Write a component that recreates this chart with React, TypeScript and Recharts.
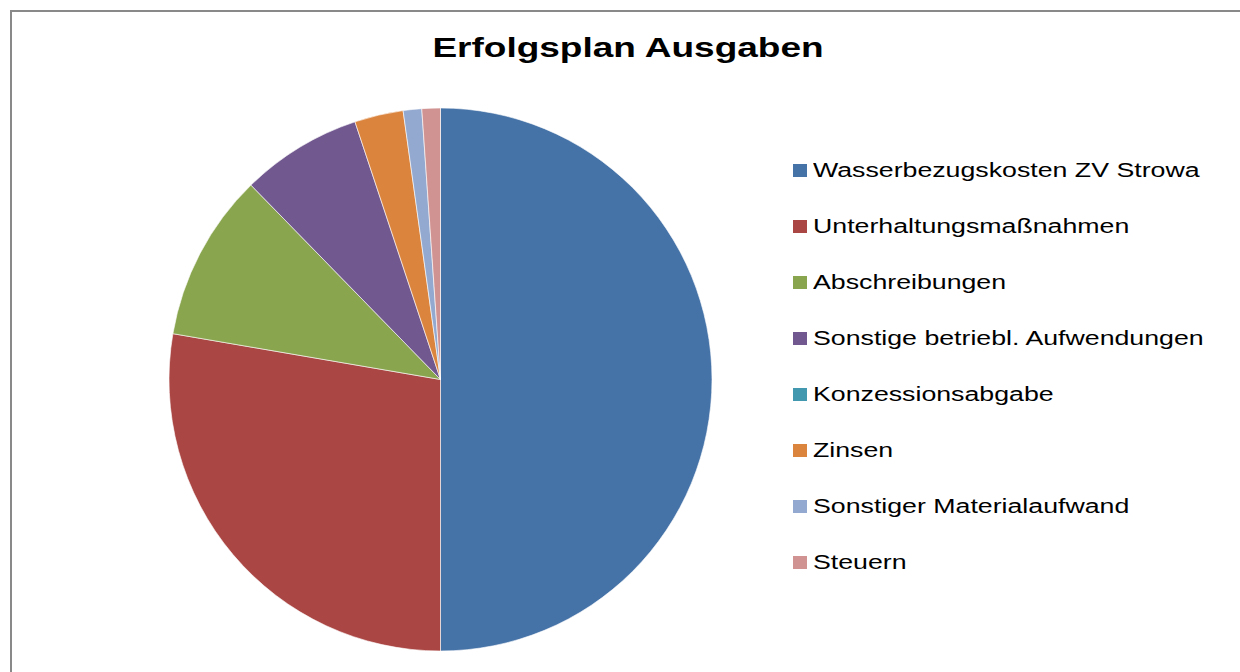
import React from 'react';
import { PieChart, Pie, Cell, Legend } from 'recharts';

const categories: string[] = [
  'Wasserbezugskosten ZV Strowa',
  'Unterhaltungsmaßnahmen',
  'Abschreibungen',
  'Sonstige betriebl. Aufwendungen',
  'Konzessionsabgabe',
  'Zinsen',
  'Sonstiger Materialaufwand',
  'Steuern',
];
const values: number[] = [50.0, 27.7, 10.0, 7.2, 0, 2.9, 1.1, 1.1];
const colors: string[] = ['#4572A7', '#AA4643', '#89A54E', '#71588F', '#4198AF', '#DB843D', '#93A9CF', '#D19392'];
const title = 'Erfolgsplan Ausgaben';

const data = categories.map((name, i) => ({ name, value: values[i] }));

const FONT = '"Liberation Sans", Arial, sans-serif';
const STRETCH = 1.37;

const LegendContent = () => (
  <div style={{ fontFamily: FONT }}>
    {categories.map((name, i) => (
      <div key={name} style={{ height: 56, display: 'flex', alignItems: 'center', position: 'relative' }}>
        <div style={{ width: 14, height: 13, background: colors[i], flex: '0 0 auto' }} />
        <span
          style={{
            position: 'absolute',
            left: 20,
            fontSize: 19.5,
            lineHeight: '56px',
            color: '#000',
            whiteSpace: 'nowrap',
            transform: `scaleX(${STRETCH})`,
            transformOrigin: 'left center',
          }}
        >
          {name}
        </span>
      </div>
    ))}
  </div>
);

export default function App() {
  return (
    <div style={{ position: 'absolute', left: 0, top: 0, width: 1240, height: 672, overflow: 'hidden', background: '#fff' }}>
      <div
        style={{
          position: 'absolute',
          left: 10,
          top: 10,
          width: 1300,
          height: 760,
          border: '2px solid #898989',
          boxSizing: 'border-box',
        }}
      />
      <div
        style={{
          position: 'absolute',
          left: 627.5,
          top: 28,
          lineHeight: '40px',
          fontSize: 27,
          fontWeight: 'bold',
          fontFamily: FONT,
          whiteSpace: 'nowrap',
          color: '#000',
          transform: `translate(-50%, 0) scaleX(${STRETCH})`,
        }}
      >
        {title}
      </div>
      <div style={{ position: 'absolute', left: 0, top: 0 }}>
        <PieChart width={1240} height={672} margin={{ top: 0, right: 0, bottom: 0, left: 0 }}>
          <Pie
            data={data}
            dataKey="value"
            nameKey="name"
            cx={440.5}
            cy={379.5}
            outerRadius={271.5}
            startAngle={90}
            endAngle={-270}
            stroke="#ffffff"
            strokeWidth={0.6}
            isAnimationActive={false}
          >
            {data.map((d, i) => (
              <Cell key={d.name} fill={colors[i]} />
            ))}
          </Pie>
          <Legend
            content={<LegendContent />}
            layout="vertical"
            wrapperStyle={{ position: 'absolute', left: 793, top: 142, width: 440, height: 448 }}
          />
        </PieChart>
      </div>
    </div>
  );
}
